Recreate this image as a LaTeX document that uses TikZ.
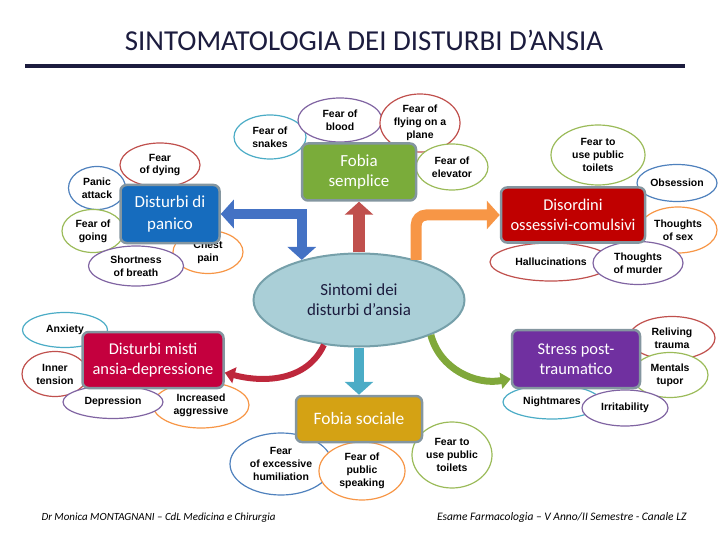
\documentclass[tikz,border=0pt]{standalone}
\usepackage{fontspec}
\setmainfont{Carlito}
\newfontfamily\bubblefont{Liberation Sans}
\usetikzlibrary{shapes.geometric,arrows.meta}

\definecolor{navy}{RGB}{28,28,62}
\definecolor{cteal}{RGB}{75,172,198}
\definecolor{cpurple}{RGB}{128,100,162}
\definecolor{cred}{RGB}{192,80,77}
\definecolor{colive}{RGB}{155,187,89}
\definecolor{corange}{RGB}{247,150,70}
\definecolor{cblue}{RGB}{79,129,189}
\definecolor{panicblue}{RGB}{22,108,190}
\definecolor{simplegreen}{RGB}{122,172,58}
\definecolor{ocdred}{RGB}{192,0,0}
\definecolor{mixedred}{RGB}{196,0,62}
\definecolor{ptsdpurple}{RGB}{112,48,160}
\definecolor{socialgold}{RGB}{212,162,20}
\definecolor{boxedge}{RGB}{132,150,160}
\definecolor{centrefill}{RGB}{170,207,215}
\definecolor{centreedge}{RGB}{118,160,170}
\definecolor{arrowblue}{RGB}{68,114,196}
\definecolor{arrowcrimson}{RGB}{190,40,60}
\definecolor{arrowgreen}{RGB}{128,168,58}

\begin{document}
\begin{tikzpicture}[x=1bp,y=1bp,
    sz/.style 2 args={minimum width=#1bp,minimum height=#2bp},
    bubble/.style={ellipse,draw=#1,line width=1.2bp,fill=white,inner sep=0pt,align=center,
      font=\bubblefont\bfseries\fontsize{10.5}{13}\selectfont},
    topic/.style={rectangle,rounded corners=6bp,draw=boxedge,line width=2.5bp,fill=#1,
      text=white,inner sep=0pt,align=center,font=\fontsize{16.5}{20}\selectfont},
    band/.style={line width=#1},
    Head/.tip={Triangle[width=28bp,length=13bp]},
    Small/.tip={Triangle[width=16bp,length=10bp]}]
    \useasboundingbox (0,0) rectangle (720,-540);

    \node[text=navy,font=\fontsize{29}{34}\selectfont] (title) at (364,-40) {SINTOMATOLOGIA DEI DISTURBI D’ANSIA};
    \draw[navy,line width=4bp] (25,-66) -- (685,-66);

    % fobia semplice
    \node[bubble=cteal,sz={72}{44}] (snakes) at (270,-137) {Fear of\\snakes};
    \node[bubble=cpurple,sz={84}{44}] (blood) at (340,-120) {Fear of\\blood};
    \node[bubble=cred,sz={80}{58}] (flying) at (420,-123) {Fear of\\flying on a\\plane};
    \node[bubble=colive,sz={72}{46}] (elevator) at (452,-167) {Fear of\\elevator};

    % panico
    \node[bubble=cblue,sz={57}{43}] (attack) at (97,-188) {Panic\\attack};
    \node[bubble=cred,sz={80}{44}] (dying) at (160,-165) {Fear\\of dying};
    \node[bubble=colive,sz={62}{43}] (going) at (93,-231) {Fear of\\going};
    \node[bubble=corange,sz={70}{43}] (chest) at (208,-252) {Chest\\pain};
    \node[bubble=cpurple,sz={95}{40}] (breath) at (136,-266) {Shortness\\of breath};

    % ossessivi
    \node[bubble=colive,sz={94}{60}] (toiletsA) at (598,-155) {Fear to\\use public\\toilets};
    \node[bubble=cblue,sz={80}{37}] (obsession) at (677,-183) {Obsession};
    \node[bubble=corange,sz={78}{46}] (sex) at (678,-230) {Thoughts\\of sex};
    \node[bubble=cred,sz={122}{38}] (halluc) at (551,-262) {Hallucinations};
    \node[bubble=cpurple,sz={90}{43}] (murder) at (638,-263) {Thoughts\\of murder};

    % misti
    \node[bubble=cteal,sz={85}{35}] (anxiety) at (65,-330) {Anxiety};
    \node[bubble=cred,sz={66}{45}] (tension) at (55,-374) {Inner\\tension};
    \node[bubble=corange,sz={96}{46}] (aggress) at (201,-405) {Increased\\aggressive};
    \node[bubble=cpurple,sz={100}{33}] (depress) at (113,-402) {Depression};

    % post-traumatico
    \node[bubble=cred,sz={86}{43}] (reliving) at (672,-338) {Reliving\\trauma};
    \node[bubble=colive,sz={76}{45}] (stupor) at (670,-375) {Mentals\\tupor};
    \node[bubble=cteal,sz={98}{34}] (nightmare) at (552,-402) {Nightmares};
    \node[bubble=cpurple,sz={86}{36}] (irrit) at (625,-408) {Irritability};

    % fobia sociale
    \node[bubble=cblue,sz={102}{62}] (humil) at (281,-464) {Fear\\of excessive\\humiliation};
    \node[bubble=colive,sz={80}{66}] (toiletsB) at (452,-455) {Fear to\\use public\\toilets};
    \node[bubble=corange,sz={86}{58}] (speaking) at (362,-471) {Fear of\\public\\speaking};

    \node[topic=panicblue,sz={99}{58},font=\fontsize{17}{22}\selectfont] (panico) at (170,-214) {Disturbi di\\panico};
    \node[topic=simplegreen,sz={114}{57},font=\fontsize{17}{20}\selectfont] (semplice) at (359,-172) {Fobia\\semplice};
    \node[topic=ocdred,sz={144}{55}] (ossess) at (573,-215) {Disordini\\ossessivi-comulsivi};
    \node[topic=mixedred,sz={141}{56}] (misti) at (153,-360) {Disturbi misti\\ansia-depressione};
    \node[topic=ptsdpurple,sz={128}{58}] (stress) at (576,-359) {Stress post-\\traumatico};
    \node[topic=socialgold,sz={126}{46},font=\fontsize{17.5}{20}\selectfont] (sociale) at (359,-419) {Fobia sociale};

    \node[ellipse,draw=centreedge,line width=2bp,fill=centrefill,sz={211}{93},inner sep=0pt,
      align=center,text=navy,font=\fontsize{17}{20}\selectfont] (sintomi) at (359,-300) {Sintomi dei\\disturbi d’ansia};

    \draw[arrowblue,band=10bp,Head-Head] (panico.east) -| (sintomi.145);
    \draw[cred,band=12bp,-Head] (sintomi.north) -- (semplice.south);
    \draw[corange,band=11bp,rounded corners=10bp,-Head] (sintomi.35) |- (ossess.west);
    \draw[arrowcrimson,band=6bp,-Small] (sintomi.232) to[out=245,in=-15] (misti.-10);
    \draw[arrowgreen,band=7bp,-Small] (sintomi.-26) to[out=-75,in=190] (stress.197);
    \draw[cteal,band=10bp,-Head] (sintomi.south) -- (sociale.north);

    \node[anchor=west,font=\itshape\fontsize{11}{13}\selectfont] (author) at (38,-518) {Dr Monica MONTAGNANI – CdL Medicina e Chirurgia};
    \node[anchor=east,font=\itshape\fontsize{11.5}{13}\selectfont] (course) at (690,-518) {Esame Farmacologia – V Anno/II Semestre - Canale LZ};
\end{tikzpicture}
\end{document}
